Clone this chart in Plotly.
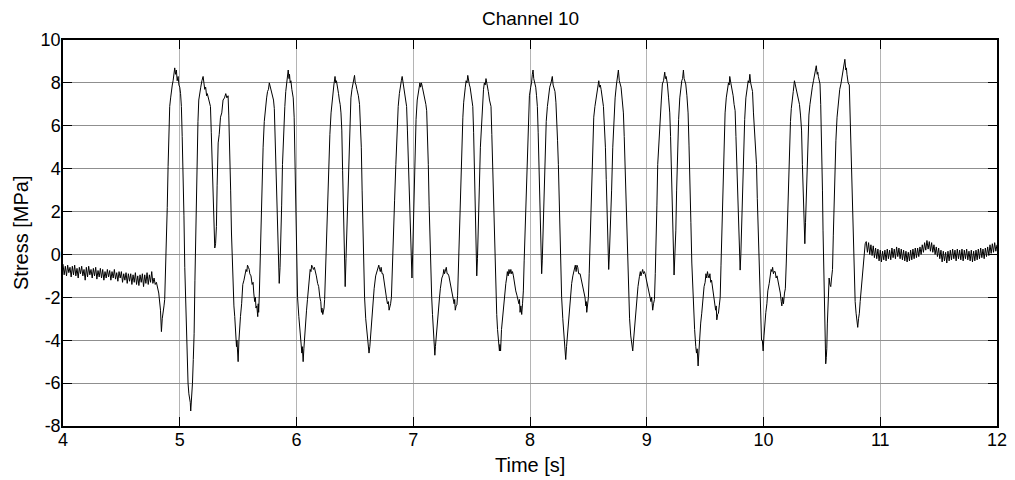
import plotly.graph_objects as go

# ---- Data (time [s], stress [MPa]) ----
baseline_start = [
    (4.00,-0.45),(4.01,-0.95),(4.02,-0.55),(4.03,-1.0),(4.04,-0.5),(4.05,-0.85),(4.06,-0.6),(4.07,-1.05),(4.08,-0.55),(4.09,-0.95),
    (4.10,-0.5),(4.11,-1.0),(4.12,-0.65),(4.13,-1.1),(4.14,-0.6),(4.15,-0.9),(4.16,-0.55),(4.17,-1.0),(4.18,-0.7),(4.19,-1.2),
    (4.20,-0.6),(4.21,-1.05),(4.22,-0.55),(4.23,-0.95),(4.24,-0.7),(4.25,-1.1),(4.26,-0.65),(4.27,-1.0),(4.28,-0.6),(4.29,-1.15),
    (4.30,-0.75),(4.31,-1.05),(4.32,-0.65),(4.33,-1.1),(4.34,-0.7),(4.35,-1.2),(4.36,-0.8),(4.37,-1.1),(4.38,-0.7),(4.39,-1.05),
    (4.40,-0.75),(4.41,-1.2),(4.42,-0.8),(4.43,-1.1),(4.44,-0.7),(4.45,-1.15),(4.46,-0.85),(4.47,-1.25),(4.48,-0.8),(4.49,-1.1),
    (4.50,-0.8),(4.51,-1.3),(4.52,-0.9),(4.53,-1.2),(4.54,-0.85),(4.55,-1.35),(4.56,-0.9),(4.57,-1.25),(4.58,-0.9),(4.59,-1.4),
    (4.60,-0.95),(4.61,-1.3),(4.62,-0.85),(4.63,-1.4),(4.64,-1.0),(4.65,-1.45),(4.66,-0.95),(4.67,-1.3),(4.68,-0.9),(4.69,-1.5),
    (4.70,-0.95),(4.71,-1.35),(4.72,-0.85),(4.73,-1.4),(4.74,-0.95),(4.75,-1.3),(4.76,-0.8),(4.77,-1.35),(4.78,-1.1),(4.79,-1.4),
]

pulses_5s = [
    (4.80,-1.3),(4.82,-1.8),(4.835,-2.6),(4.843,-3.6),(4.85,-3.0),(4.857,-2.8),(4.865,-2.4),(4.871,-2.1),(4.878,-1.0),(4.886,0.2),
    (4.893,2.2),(4.9,4.1),(4.907,5.8),(4.914,6.9),(4.922,7.3),(4.929,7.8),(4.936,7.9),(4.943,8.1),(4.95,8.5),(4.957,8.7),
    (4.964,8.4),(4.971,8.6),(4.978,8.1),(4.986,8.3),(4.993,7.9),(5.0,7.8),(5.007,7.5),(5.014,6.9),(5.021,5.5),(5.029,4.1),
    (5.036,1.8),(5.043,-0.6),(5.05,-2.2),(5.057,-3.7),(5.064,-5.0),(5.071,-6.0),(5.078,-6.5),(5.086,-6.7),(5.09,-6.9),(5.094,-7.3),
    (5.1,-6.9),(5.109,-6.0),(5.116,-4.9),(5.123,-3.7),(5.13,-1.2),(5.137,1.0),(5.143,3.0),(5.149,4.9),(5.156,6.2),(5.163,7.2),
    (5.171,7.6),(5.18,7.8),(5.19,8.1),(5.2,8.3),(5.207,8.0),(5.214,7.7),(5.222,7.8),(5.23,7.4),(5.236,7.5),(5.243,7.3),
    (5.253,7.1),(5.263,6.9),(5.27,5.7),(5.28,4.1),(5.286,2.8),(5.291,1.7),(5.296,0.8),(5.3,0.3),(5.307,0.5),(5.314,1.3),
    (5.32,3.2),(5.329,5.2),(5.338,5.6),(5.349,6.4),(5.36,6.6),(5.371,7.2),(5.383,7.3),(5.394,7.5),(5.404,7.3),(5.414,7.4),
    (5.42,6.5),(5.429,4.9),(5.436,3.0),(5.443,1.0),(5.45,-0.5),(5.457,-1.7),(5.464,-2.4),(5.471,-2.9),(5.478,-3.6),(5.486,-4.3),
    (5.49,-4.0),(5.495,-4.6),(5.5,-5.0),
]

pulses_6s = [
    (5.507,-4.0),(5.514,-3.1),(5.52,-2.9),(5.53,-2.3),(5.54,-1.4),(5.55,-1.2),(5.56,-0.9),(5.568,-0.7),(5.575,-0.8),(5.58,-0.5),
    (5.588,-0.6),(5.595,-0.7),(5.6,-0.9),(5.61,-1.0),(5.62,-1.4),(5.628,-1.3),(5.634,-1.8),(5.642,-2.2),(5.648,-2.0),(5.653,-2.5),
    (5.66,-2.4),(5.668,-2.9),(5.672,-2.3),(5.676,-2.7),(5.682,-1.8),(5.688,-0.4),(5.696,1.6),(5.705,3.5),(5.714,5.0),(5.724,6.2),
    (5.734,6.9),(5.744,7.3),(5.752,7.6),(5.76,7.7),(5.767,8.0),(5.775,7.8),(5.781,7.7),(5.787,7.6),(5.795,7.3),(5.803,7.2),
    (5.81,6.8),(5.817,5.6),(5.824,4.2),(5.831,2.6),(5.838,1.1),(5.845,-0.2),(5.852,-1.35),(5.859,-0.6),(5.866,0.4),(5.873,2.3),
    (5.88,4.2),(5.89,5.8),(5.9,6.9),(5.908,7.6),(5.915,8.0),(5.922,8.2),(5.929,8.6),(5.936,8.2),(5.94,8.4),(5.946,8.0),
    (5.952,8.1),(5.96,7.7),(5.966,7.5),(5.972,7.3),(5.98,6.4),(5.987,4.5),(5.994,2.7),(6.001,0.4),(6.009,-2.0),(6.02,-2.9),
    (6.03,-3.5),(6.038,-4.0),(6.046,-4.6),(6.05,-4.3),(6.057,-5.0),(6.063,-4.4),(6.069,-3.8),(6.077,-3.1),(6.086,-2.6),(6.094,-2.1),
    (6.103,-1.35),(6.11,-1.2),(6.117,-0.7),(6.124,-0.8),(6.13,-0.5),(6.138,-0.6),(6.145,-0.7),(6.153,-0.6),(6.161,-0.9),(6.17,-1.0),
    (6.181,-1.35),(6.19,-1.5),(6.2,-2.0),(6.208,-2.2),(6.214,-2.7),(6.218,-2.5),(6.225,-2.8),(6.23,-2.7),(6.236,-2.5),(6.241,-2.1),
    (6.25,-0.5),(6.259,1.1),(6.267,2.7),(6.276,4.2),(6.286,5.6),(6.296,6.6),(6.303,7.1),(6.31,7.5),(6.32,7.9),(6.33,8.3),
    (6.336,8.0),(6.342,8.1),(6.353,7.8),(6.36,7.5),(6.367,7.2),(6.374,7.0),(6.381,6.6),(6.388,5.8),(6.395,3.9),(6.402,1.9),
    (6.41,0.0),(6.417,-1.5),(6.424,-0.2),(6.431,1.1),(6.44,3.2),(6.448,5.0),(6.457,6.3),(6.466,7.3),(6.475,7.7),(6.483,8.0),
    (6.49,8.1),(6.497,8.35),(6.503,8.0),(6.51,7.9),(6.517,7.7),(6.53,7.4),(6.54,7.0),(6.548,6.2),(6.555,5.0),(6.562,3.0),
    (6.569,1.1),(6.576,-0.5),(6.583,-2.0),(6.593,-3.0),(6.603,-3.7),(6.612,-4.2),(6.621,-4.6),(6.628,-4.3),(6.635,-3.8),(6.645,-2.9),
    (6.655,-2.0),(6.665,-1.6),(6.678,-1.0),(6.688,-0.8),(6.698,-0.65),(6.705,-0.5),(6.712,-0.7),(6.718,-0.8),(6.725,-0.6),(6.733,-0.9),
    (6.741,-0.9),(6.75,-1.3),(6.761,-1.7),(6.77,-2.0),(6.779,-2.3),(6.787,-2.2),(6.793,-2.6),(6.799,-2.5),(6.806,-2.3),(6.813,-2.0),
    (6.82,-0.6),(6.828,0.8),(6.84,2.5),(6.851,4.2),(6.861,5.6),(6.871,6.9),(6.881,7.5),(6.891,8.0),(6.898,8.1),(6.905,8.3),
    (6.912,8.0),(6.92,7.8),(6.93,7.3),(6.937,7.1),(6.943,6.9),(6.95,5.8),(6.957,4.5),(6.964,2.7),(6.971,1.1),(6.98,0.0),
    (6.989,-1.1),(6.995,0.0),
]

pulses_7s = [
    (7.0,1.1),(7.007,3.0),(7.014,5.0),(7.024,6.3),(7.034,7.2),(7.045,7.6),(7.057,8.0),(7.063,7.8),(7.07,8.0),(7.078,7.8),
    (7.09,7.5),(7.1,7.3),(7.108,7.0),(7.115,6.7),(7.122,5.6),(7.129,4.2),(7.136,2.3),(7.144,0.4),(7.151,-0.9),(7.158,-2.0),
    (7.165,-2.8),(7.172,-3.5),(7.18,-4.1),(7.185,-4.7),(7.19,-4.3),(7.2,-3.5),(7.208,-2.9),(7.215,-2.4),(7.225,-2.0),(7.232,-1.6),
    (7.238,-1.35),(7.245,-1.1),(7.255,-0.96),(7.262,-0.7),(7.268,-0.9),(7.275,-0.8),(7.283,-0.6),(7.29,-0.9),(7.297,-0.9),(7.305,-1.0),
    (7.317,-1.35),(7.328,-1.7),(7.34,-2.0),(7.35,-2.3),(7.355,-2.1),(7.36,-2.6),(7.367,-2.4),(7.374,-2.35),(7.38,-1.9),(7.387,-0.5),
    (7.397,1.1),(7.404,2.7),(7.411,4.2),(7.418,5.4),(7.425,6.4),(7.432,7.1),(7.439,7.6),(7.446,7.8),(7.453,8.1),(7.46,8.0),
    (7.467,8.35),(7.475,8.0),(7.481,7.9),(7.487,7.8),(7.495,7.5),(7.503,7.2),(7.51,6.9),(7.517,5.7),(7.524,4.2),(7.529,2.5),
    (7.533,1.1),(7.538,0.0),(7.544,-1.0),(7.55,-0.2),(7.558,1.1),(7.566,3.1),(7.575,5.0),(7.585,6.3),(7.595,7.3),(7.602,7.7),
    (7.609,8.0),(7.616,7.9),(7.623,8.2),(7.63,7.9),(7.636,7.8),(7.643,7.6),(7.653,7.2),(7.66,7.0),(7.666,6.9),(7.673,5.6),
    (7.68,4.2),(7.687,2.3),(7.694,0.4),(7.701,-0.9),(7.708,-2.0),(7.715,-2.8),(7.722,-3.5),(7.732,-4.0),(7.738,-4.5),(7.742,-4.2),
    (7.748,-4.5),(7.756,-3.5),(7.765,-2.9),(7.773,-2.3),(7.783,-1.8),(7.793,-1.35),(7.8,-1.1),(7.806,-0.8),(7.813,-1.0),(7.82,-0.7),
    (7.828,-0.9),(7.836,-0.7),(7.843,-0.9),(7.85,-0.8),(7.858,-1.0),(7.867,-1.4),(7.878,-1.7),(7.888,-1.9),(7.898,-2.1),(7.905,-2.3),
    (7.91,-2.1),(7.915,-2.7),(7.922,-2.4),(7.929,-2.8),(7.936,-2.3),(7.943,-1.7),(7.95,-0.3),(7.958,1.1),(7.965,2.7),(7.972,4.2),
    (7.979,5.6),(7.986,6.9),(7.995,7.4),
]

pulses_8s = [
    (8.006,7.8),(8.013,8.0),(8.02,8.4),(8.026,8.6),(8.032,8.2),(8.04,8.0),(8.049,7.8),(8.056,7.4),(8.063,6.9),(8.07,5.7),
    (8.077,4.2),(8.084,2.6),(8.091,1.1),(8.096,0.0),(8.1,-0.9),(8.105,-0.3),(8.111,1.1),(8.12,3.0),(8.129,5.0),(8.139,6.2),
    (8.149,6.9),(8.159,7.5),(8.169,7.8),(8.18,8.0),(8.191,8.3),(8.198,7.9),(8.205,7.8),(8.214,7.6),(8.222,7.1),(8.229,6.4),
    (8.236,5.3),(8.243,4.2),(8.25,2.3),(8.257,0.4),(8.264,-0.9),(8.271,-2.0),(8.281,-3.0),(8.291,-3.8),(8.298,-4.4),(8.306,-4.9),
    (8.313,-4.3),(8.32,-3.8),(8.328,-3.0),(8.337,-2.4),(8.347,-1.8),(8.357,-1.35),(8.367,-1.0),(8.375,-0.8),(8.38,-0.7),(8.388,-0.5),
    (8.395,-0.8),(8.402,-0.5),(8.409,-0.6),(8.417,-0.9),(8.429,-0.9),(8.44,-1.2),(8.451,-1.5),(8.461,-1.8),(8.471,-2.0),(8.478,-2.4),
    (8.482,-2.2),(8.486,-2.7),(8.493,-2.3),(8.5,-2.0),(8.507,-0.9),(8.514,0.4),(8.522,2.3),(8.531,4.2),(8.539,5.4),(8.546,6.4),
    (8.556,6.9),(8.566,7.3),(8.578,7.8),(8.589,8.1),(8.595,7.8),(8.602,7.9),(8.609,7.7),(8.62,7.2),(8.629,6.9),(8.637,6.0),
    (8.646,5.0),(8.653,3.5),(8.66,1.9),(8.667,0.5),(8.674,-0.7),(8.68,0.0),(8.689,1.1),(8.699,3.0),(8.709,5.0),(8.719,6.3),
    (8.729,7.3),(8.74,7.9),(8.751,8.4),(8.757,8.6),(8.765,8.1),(8.772,8.0),(8.78,7.8),(8.79,7.2),(8.8,6.6),(8.807,5.5),
    (8.814,4.2),(8.821,2.4),(8.829,0.4),(8.836,-0.9),(8.843,-2.0),(8.853,-3.0),(8.863,-3.8),(8.872,-4.3),(8.88,-4.5),(8.887,-4.0),
    (8.894,-3.5),(8.904,-2.7),(8.914,-2.0),(8.925,-1.5),(8.937,-1.04),(8.945,-0.8),(8.95,-1.0),(8.957,-0.8),(8.965,-0.7),(8.972,-0.9),
    (8.98,-0.8),(8.986,-0.9),(8.997,-1.2),
]

pulses_9s = [
    (9.009,-1.5),(9.02,-1.8),(9.029,-2.0),(9.036,-2.2),(9.042,-2.0),(9.051,-2.6),(9.058,-2.3),(9.066,-2.1),(9.073,-0.9),(9.08,0.4),
    (9.087,2.3),(9.094,4.2),(9.104,5.4),(9.114,6.4),(9.125,7.2),(9.134,7.95),(9.144,8.1),(9.154,8.5),(9.16,8.2),(9.166,8.3),
    (9.177,7.95),(9.187,7.3),(9.197,6.6),(9.204,5.5),(9.211,4.2),(9.218,2.6),(9.226,1.1),(9.23,0.0),(9.234,-0.96),(9.241,0.0),
    (9.249,1.1),(9.256,3.0),(9.263,5.0),(9.273,6.3),(9.283,7.3),(9.292,7.8),(9.3,8.1),(9.307,8.2),(9.314,8.6),(9.32,8.2),
    (9.327,8.1),(9.334,7.95),(9.344,7.4),(9.354,6.6),(9.362,5.1),(9.371,3.5),(9.378,1.5),(9.386,-0.4),(9.393,-1.6),(9.4,-2.74),
    (9.41,-3.5),(9.42,-4.3),(9.426,-4.6),(9.432,-4.4),(9.44,-5.2),(9.447,-4.5),(9.454,-3.8),(9.462,-3.2),(9.471,-2.74),(9.481,-2.1),
    (9.491,-1.5),(9.5,-1.3),(9.507,-0.9),(9.514,-1.1),(9.52,-0.8),(9.527,-1.0),(9.534,-1.1),(9.541,-0.9),(9.548,-1.3),(9.555,-1.2),
    (9.563,-1.5),(9.573,-1.9),(9.583,-2.3),(9.59,-2.6),(9.595,-2.4),(9.6,-3.05),(9.607,-2.8),(9.614,-2.74),(9.621,-2.4),(9.629,-2.0),
    (9.636,-0.5),(9.643,1.1),(9.65,2.7),(9.657,4.2),(9.664,5.5),(9.671,6.6),(9.681,7.3),(9.691,7.8),(9.7,8.0),(9.706,7.9),
    (9.711,8.3),(9.72,8.0),(9.728,7.8),(9.734,7.6),(9.74,7.4),(9.748,7.0),(9.757,6.7),(9.764,5.5),(9.771,4.2),(9.779,2.6),
    (9.786,1.1),(9.793,0.0),(9.8,-0.73),(9.806,0.0),(9.811,1.1),(9.82,3.0),(9.829,5.0),(9.839,6.3),(9.849,7.3),(9.859,7.8),
    (9.869,8.1),(9.876,8.0),(9.883,8.4),(9.89,8.0),(9.899,7.8),(9.906,7.6),(9.914,6.6),(9.926,5.6),(9.933,4.6),(9.94,4.2),
    (9.947,2.6),(9.954,1.1),(9.961,-0.5),(9.969,-2.0),(9.976,-3.1),(9.983,-4.0),(9.99,-4.0),(9.997,-4.5),
]

pulses_10s = [
    (10.004,-3.8),(10.011,-3.2),(10.02,-2.7),(10.029,-2.3),(10.037,-1.7),(10.049,-1.35),(10.058,-0.9),(10.065,-0.7),(10.072,-0.8),(10.078,-0.6),
    (10.085,-0.9),(10.091,-0.8),(10.1,-0.8),(10.108,-1.1),(10.116,-1.0),(10.124,-1.2),(10.134,-1.5),(10.144,-1.8),(10.152,-2.2),(10.157,-2.4),
    (10.164,-2.0),(10.171,-2.3),(10.18,-1.8),(10.187,-1.6),(10.195,-0.4),(10.202,1.1),(10.209,2.7),(10.216,4.2),(10.224,5.3),(10.231,6.2),
    (10.238,6.8),(10.245,7.3),(10.255,7.6),(10.265,8.1),(10.272,7.9),(10.28,7.8),(10.288,7.6),(10.298,7.3),(10.308,7.0),(10.317,6.5),
    (10.326,5.8),(10.333,4.2),(10.34,2.7),(10.347,1.5),(10.354,0.5),(10.36,1.5),(10.366,2.7),(10.373,4.3),(10.38,5.8),(10.389,6.5),
    (10.398,7.0),(10.408,7.5),(10.418,7.8),(10.428,8.1),(10.438,8.4),(10.445,8.5),(10.452,8.8),(10.46,8.4),(10.465,8.5),(10.47,8.3),
    (10.477,8.0),(10.484,7.95),(10.49,7.0),(10.499,5.0),(10.505,3.0),(10.51,1.1),(10.516,-0.5),(10.522,-2.0),(10.527,-3.6),(10.533,-5.1),
    (10.538,-4.8),(10.542,-4.4),(10.547,-3.2),(10.553,-2.0),(10.558,-1.3),(10.562,-1.1),(10.569,-1.4),(10.576,-1.5),(10.583,-1.1),(10.591,-0.7),
    (10.598,0.9),(10.605,2.7),(10.612,4.1),(10.62,5.3),(10.63,6.4),(10.643,7.3),(10.653,7.7),(10.663,7.95),(10.673,8.3),(10.683,8.6),
    (10.69,8.8),(10.697,9.1),(10.705,8.6),(10.71,8.7),(10.715,8.4),(10.725,8.0),(10.735,7.9),(10.742,6.5),(10.749,4.2),(10.756,2.6),
    (10.764,1.1),(10.771,-0.3),(10.778,-1.66),(10.785,-2.2),(10.793,-2.74),(10.8,-3.0),(10.807,-3.4),(10.814,-3.0),(10.821,-2.74),(10.828,-2.2),
    (10.836,-1.66),(10.843,-1.2),(10.85,-0.73),(10.858,-0.3),(10.865,-0.1),(10.871,0.5),
]

baseline_end = [
    (10.88,0.6),(10.89,0.1),(10.90,0.55),(10.91,0.0),(10.92,0.45),(10.93,-0.05),(10.94,0.4),(10.95,-0.15),(10.96,0.3),(10.97,-0.2),
    (10.98,0.25),(10.99,-0.3),(11.00,0.2),(11.01,-0.35),(11.02,0.15),(11.03,-0.25),(11.04,0.2),(11.05,-0.3),(11.06,0.25),(11.07,-0.2),
    (11.08,0.2),(11.09,-0.25),(11.10,0.3),(11.11,-0.15),(11.12,0.25),(11.13,-0.2),(11.14,0.35),(11.15,-0.1),(11.16,0.3),(11.17,-0.2),
    (11.18,0.25),(11.19,-0.25),(11.20,0.2),(11.21,-0.3),(11.22,0.15),(11.23,-0.35),(11.24,0.1),(11.25,-0.3),(11.26,0.2),(11.27,-0.25),
    (11.28,0.25),(11.29,-0.2),(11.30,0.3),(11.31,-0.15),(11.32,0.3),(11.33,-0.1),(11.34,0.35),(11.35,0.0),(11.36,0.45),(11.37,0.1),
    (11.38,0.55),(11.39,0.2),(11.40,0.65),(11.41,0.25),(11.42,0.6),(11.43,0.15),(11.44,0.55),(11.45,0.1),(11.46,0.45),(11.47,0.0),
    (11.48,0.35),(11.49,-0.1),(11.50,0.3),(11.51,-0.2),(11.52,0.2),(11.53,-0.35),(11.54,0.15),(11.55,-0.3),(11.56,0.1),(11.57,-0.4),
    (11.58,0.15),(11.59,-0.3),(11.60,0.2),(11.61,-0.25),(11.62,0.25),(11.63,-0.2),(11.64,0.2),(11.65,-0.3),(11.66,0.25),(11.67,-0.2),
    (11.68,0.2),(11.69,-0.25),(11.70,0.25),(11.71,-0.3),(11.72,0.2),(11.73,-0.2),(11.74,0.25),(11.75,-0.25),(11.76,0.15),(11.77,-0.3),
    (11.78,0.2),(11.79,-0.35),(11.80,0.15),(11.81,-0.3),(11.82,0.2),(11.83,-0.25),(11.84,0.25),(11.85,-0.2),(11.86,0.3),(11.87,-0.15),
    (11.88,0.25),(11.89,-0.2),(11.90,0.3),(11.91,-0.1),(11.92,0.35),(11.93,-0.05),(11.94,0.45),(11.95,0.05),(11.96,0.5),(11.97,0.1),
    (11.98,0.55),(11.99,0.15),(12.00,0.45),
]

x_ticks = [4, 5, 6, 7, 8, 9, 10, 11, 12]
y_ticks = [-8, -6, -4, -2, 0, 2, 4, 6, 8, 10]

segments = [baseline_start, pulses_5s, pulses_6s, pulses_7s, pulses_8s, pulses_9s, pulses_10s, baseline_end]
time = [p[0] for seg in segments for p in seg]
stress = [p[1] for seg in segments for p in seg]

FONT = "Liberation Sans, Arial, Helvetica, sans-serif"

# The page body has an 8px default margin, so the figure is placed at (8, 8)
# inside the 1015x480 window; size and margins compensate for that offset.
PAGE_OFF = 8
W, H = 1015 - PAGE_OFF, 480 - PAGE_OFF
L, R, T, B = 63 - PAGE_OFF, 18, 40 - PAGE_OFF, 54
plot_w, plot_h = W - L - R, H - T - B

fig = go.Figure()
fig.add_trace(go.Scatter(x=time, y=stress, mode="lines",
                         line=dict(color="black", width=1), showlegend=False,
                         hoverinfo="skip"))

axis_common = dict(
    showline=True, linecolor="black", linewidth=1.5, mirror="ticks",
    ticks="inside", ticklen=9, tickwidth=1, tickcolor="black",
    showgrid=True, gridwidth=1, zeroline=False,
    tickfont=dict(family=FONT, size=18, color="black"),
)

fig.update_xaxes(range=[4, 12], tickvals=x_ticks, ticktext=[str(v) for v in x_ticks],
                 gridcolor="#b4b4b4", ticklabelstandoff=-3, **axis_common)
fig.update_yaxes(range=[-8, 10], tickvals=y_ticks, ticktext=[str(v) for v in y_ticks],
                 gridcolor="#8f8f8f", ticklabelstandoff=-3, **axis_common)

fig.update_layout(
    width=W, height=H,
    margin=dict(l=L, r=R, t=T, b=B, autoexpand=False),
    paper_bgcolor="white", plot_bgcolor="white",
    annotations=[
        dict(text="Channel 10", xref="paper", yref="paper", x=0.5,
             y=1 + (T - 10) / plot_h, xanchor="center", yanchor="middle",
             showarrow=False, font=dict(family=FONT, size=19, color="black")),
        dict(text="Time [s]", xref="paper", yref="paper", x=0.5,
             y=-(457 - (T + plot_h)) / plot_h, xanchor="center", yanchor="middle",
             showarrow=False, font=dict(family=FONT, size=20, color="black")),
        dict(text="Stress [MPa]", xref="paper", yref="paper",
             x=-(L - 13) / plot_w, y=0.5, xanchor="center", yanchor="middle",
             textangle=-90, showarrow=False,
             font=dict(family=FONT, size=20, color="black")),
    ],
)

fig.write_html("out.html")
